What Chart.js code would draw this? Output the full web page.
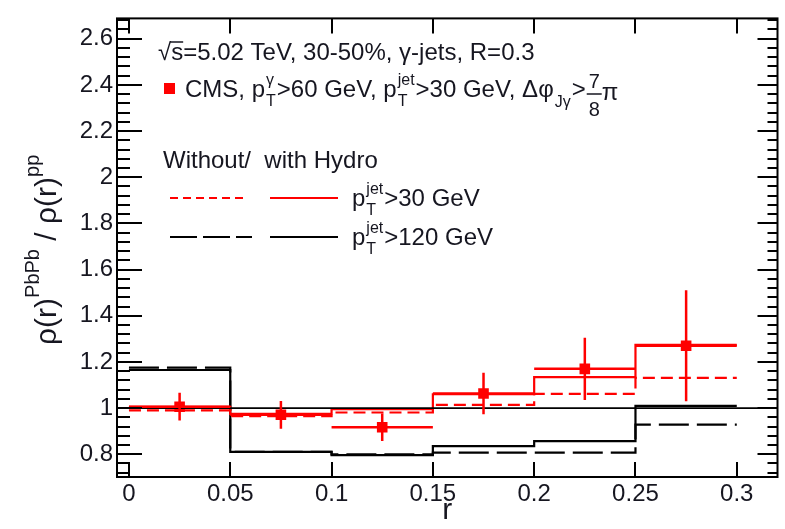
<!DOCTYPE html>
<html>
<head>
<meta charset="utf-8">
<script src="https://cdn.jsdelivr.net/npm/chart.js@4.4.0/dist/chart.umd.min.js"></script>
<style>
html, body { margin: 0; padding: 0; background: #fff; }
</style>
</head>
<body>
<canvas id="grafico" width="785" height="529"></canvas>
<script>
// datos
const binEdges = [0, 0.05, 0.1, 0.15, 0.2, 0.25, 0.3];
const rojoHydro = [1.005, 0.975, 0.995, 1.06, 1.134, 1.274];    // pT jet > 30, con hydro
const rojoSinHydro = [0.99, 0.965, 0.981, 1.014, 1.062, 1.131]; // pT jet > 30, sin hydro
const negroHydro = [1.165, 0.81, 0.796, 0.835, 0.857, 1.01];    // pT jet > 120, con hydro
const negroSinHydro = [1.175, 0.81, 0.80, 0.807, 0.807, 0.928]; // pT jet > 120, sin hydro

const cmsX = [0.025, 0.075, 0.125, 0.175, 0.225, 0.275];
const cmsY = [1.006, 0.971, 0.917, 1.063, 1.17, 1.27];
const cmsErrY = [0.06, 0.06, 0.06, 0.09, 0.135, 0.24];
const cmsErrX = [0.025, 0.025, 0.025, 0.025, 0.025, 0.025];

const lineaUnoX = [0, 0.3201];
const lineaUnoY = [1, 1];

const xTicks = [0, 0.05, 0.1, 0.15, 0.2, 0.25, 0.3];
const yTicks = [0.8, 1, 1.2, 1.4, 1.6, 1.8, 2, 2.2, 2.4, 2.6];

const FUENTE = "'Liberation Sans', Arial, sans-serif";
const TEXTO = '#161620';

function histPuntos(vals) {
  const pts = vals.map((v, i) => ({ x: binEdges[i], y: v }));
  pts.push({ x: binEdges[binEdges.length - 1], y: vals[vals.length - 1] });
  return pts;
}

function fmt(v) {
  return String(+v.toFixed(2));
}

// texto con sub/superindices
function textoRico(ctx, x, y, partes) {
  let cx = x;
  partes.forEach(p => {
    if (p.sub !== undefined) {
      ctx.font = `16px ${FUENTE}`;
      ctx.fillText(p.sub, cx + 1, y + 9);
      const w1 = ctx.measureText(p.sub).width;
      ctx.fillText(p.sup, cx + 1, y - 12);
      const w2 = ctx.measureText(p.sup).width;
      cx += Math.max(w1, w2) + 2;
      return;
    }
    ctx.font = `${p.s || 24}px ${FUENTE}`;
    ctx.fillText(p.t, cx, y + (p.dy || 0));
    cx += ctx.measureText(p.t).width;
  });
  return cx;
}

const marcoRoot = {
  id: 'marcoRoot',
  afterDatasetsDraw(chart) {
    const ctx = chart.ctx;
    const xs = chart.scales.x, ys = chart.scales.y;
    ctx.save();
    ctx.strokeStyle = '#ff0000';
    ctx.lineWidth = 2.5;
    cmsX.forEach((xv, i) => {
      const px = xs.getPixelForValue(xv);
      const py = ys.getPixelForValue(cmsY[i]);
      ctx.beginPath();
      ctx.moveTo(px, ys.getPixelForValue(cmsY[i] - cmsErrY[i]));
      ctx.lineTo(px, ys.getPixelForValue(cmsY[i] + cmsErrY[i]));
      ctx.moveTo(xs.getPixelForValue(xv - cmsErrX[i]), py);
      ctx.lineTo(xs.getPixelForValue(xv + cmsErrX[i]), py);
      ctx.stroke();
    });
    ctx.restore();
  },
  afterDraw(chart) {
    const ctx = chart.ctx;
    const a = chart.chartArea;
    const xs = chart.scales.x, ys = chart.scales.y;
    ctx.save();
    ctx.strokeStyle = '#000';
    ctx.lineWidth = 2;
    ctx.strokeRect(a.left, a.top, a.right - a.left, a.bottom - a.top);

    // marcas del eje y (hacia adentro, ambos lados)
    ctx.beginPath();
    for (let k = 18; k <= 67; k++) {
      const v = k * 0.04;
      const py = Math.round(ys.getPixelForValue(v));
      if (py < a.top || py > a.bottom) continue;
      const mayor = k % 5 === 0;
      ctx.moveTo(a.left, py);
      ctx.lineTo(a.left + (mayor ? 25 : 13), py);
      ctx.moveTo(a.right, py);
      ctx.lineTo(a.right - (mayor ? 20 : 10), py);
    }
    // marcas del eje x
    xTicks.forEach(v => {
      const px = Math.round(xs.getPixelForValue(v));
      ctx.moveTo(px, a.bottom);
      ctx.lineTo(px, a.bottom - 15);
      ctx.moveTo(px, a.top);
      ctx.lineTo(px, a.top + 15);
    });
    ctx.stroke();

    // titulo eje y
    ctx.fillStyle = TEXTO;
    ctx.textBaseline = 'alphabetic';
    ctx.save();
    ctx.translate(56, 345);
    ctx.rotate(-Math.PI / 2);
    let cx = 0;
    const piezas = [
      { t: 'ρ(r)', s: 30, dy: 0 },
      { t: 'PbPb', s: 20, dy: -17 },
      { t: ' / ', s: 30, dy: 0 },
      { t: 'ρ(r)', s: 30, dy: 0 },
      { t: 'pp', s: 20, dy: -17 }
    ];
    piezas.forEach(p => {
      ctx.font = `${p.s}px ${FUENTE}`;
      ctx.fillText(p.t, cx, p.dy);
      cx += ctx.measureText(p.t).width;
    });
    ctx.restore();

    // anotaciones
    ctx.font = `24px ${FUENTE}`;
    ctx.fillText('√', 158, 60);
    const wr = ctx.measureText('√').width;
    const ws = ctx.measureText('s').width;
    ctx.fillText('s', 158 + wr, 60);
    ctx.lineWidth = 1.5;
    ctx.strokeStyle = TEXTO;
    ctx.beginPath();
    ctx.moveTo(158 + wr - 1, 42);
    ctx.lineTo(158 + wr + ws, 42);
    ctx.stroke();
    ctx.fillText('=5.02 TeV, 30-50%, γ-jets, R=0.3', 158 + wr + ws, 60);

    // punto CMS
    ctx.fillStyle = '#ff0000';
    ctx.fillRect(164, 83, 11, 11);
    ctx.fillStyle = TEXTO;
    let fx = textoRico(ctx, 185, 97, [
      { t: 'CMS, p' }, { sub: 'T', sup: 'γ' },
      { t: '>60 GeV, p' }, { sub: 'T', sup: 'jet' },
      { t: '>30 GeV, Δφ' }
    ]);
    ctx.font = `16px ${FUENTE}`;
    ctx.fillText('Jγ', fx + 1, 107);
    fx += ctx.measureText('Jγ').width + 2;
    ctx.font = `24px ${FUENTE}`;
    ctx.fillText('>', fx, 97);
    fx += ctx.measureText('>').width + 1;
    ctx.font = `20px ${FUENTE}`;
    ctx.fillText('7', fx + 2, 88);
    ctx.fillText('8', fx + 2, 116);
    ctx.lineWidth = 1.5;
    ctx.beginPath();
    ctx.moveTo(fx, 94);
    ctx.lineTo(fx + 15, 94);
    ctx.stroke();
    ctx.font = `24px ${FUENTE}`;
    ctx.fillText('π', fx + 15, 100);

    ctx.fillText('Without/  with Hydro', 163, 168);

    // muestras de linea
    ctx.lineWidth = 2.2;
    ctx.strokeStyle = '#ff0000';
    ctx.setLineDash([8, 5]);
    ctx.beginPath(); ctx.moveTo(170, 198); ctx.lineTo(248, 198); ctx.stroke();
    ctx.setLineDash([]);
    ctx.beginPath(); ctx.moveTo(270, 198); ctx.lineTo(338, 198); ctx.stroke();
    ctx.strokeStyle = '#000';
    ctx.setLineDash([27, 6]);
    ctx.beginPath(); ctx.moveTo(170, 237); ctx.lineTo(252, 237); ctx.stroke();
    ctx.setLineDash([]);
    ctx.beginPath(); ctx.moveTo(270, 237); ctx.lineTo(338, 237); ctx.stroke();

    ctx.fillStyle = TEXTO;
    textoRico(ctx, 352, 206, [{ t: 'p' }, { sub: 'T', sup: 'jet' }, { t: '>30 GeV' }]);
    textoRico(ctx, 352, 245, [{ t: 'p' }, { sub: 'T', sup: 'jet' }, { t: '>120 GeV' }]);
    ctx.restore();
  }
};

const datasets = [
  {
    label: 'uno',
    data: lineaUnoX.map((x, i) => ({ x, y: lineaUnoY[i] })),
    showLine: true, borderColor: '#000', borderWidth: 1.6, pointRadius: 0
  },
  {
    label: 'CMS',
    data: cmsX.map((x, i) => ({ x, y: cmsY[i] })),
    showLine: false, pointStyle: 'rect', pointRadius: 7.5,
    backgroundColor: '#ff0000', borderColor: '#ff0000', borderWidth: 0
  },
  {
    label: 'rojo hydro',
    data: histPuntos(rojoHydro),
    showLine: true, stepped: 'before', borderColor: '#ff0000', borderWidth: 2.2, pointRadius: 0
  },
  {
    label: 'rojo sin hydro',
    data: histPuntos(rojoSinHydro),
    showLine: true, stepped: 'before', borderColor: '#ff0000', borderWidth: 2.2,
    borderDash: [12, 6], pointRadius: 0
  },
  {
    label: 'negro hydro',
    data: histPuntos(negroHydro),
    showLine: true, stepped: 'before', borderColor: '#000', borderWidth: 2.2, pointRadius: 0
  },
  {
    label: 'negro sin hydro',
    data: histPuntos(negroSinHydro),
    showLine: true, stepped: 'before', borderColor: '#000', borderWidth: 2.2,
    borderDash: [30, 8], pointRadius: 0
  }
];

new Chart(document.getElementById('grafico').getContext('2d'), {
  type: 'scatter',
  data: { datasets },
  options: {
    responsive: false,
    animation: false,
    devicePixelRatio: 1,
    layout: { padding: { left: 0, top: 13, right: 4, bottom: 0 } },
    plugins: { legend: { display: false }, tooltip: { enabled: false } },
    scales: {
      x: {
        type: 'linear', min: -0.0059, max: 0.3201,
        afterBuildTicks: s => { s.ticks = xTicks.map(v => ({ value: v })); },
        afterFit: s => { s.height = 52; },
        grid: { display: false, drawTicks: false },
        border: { display: false },
        ticks: {
          callback: v => fmt(v), autoSkip: false, maxRotation: 0, padding: 3,
          color: TEXTO, font: { family: FUENTE, size: 24 }
        },
        title: {
          display: true, text: 'r', color: TEXTO, padding: { top: 0, bottom: 0 },
          font: { family: FUENTE, size: 30 }
        }
      },
      y: {
        type: 'linear', min: 0.7015, max: 2.688,
        afterBuildTicks: s => { s.ticks = yTicks.map(v => ({ value: v })); },
        afterFit: s => { s.width = 117; },
        grid: { display: false, drawTicks: false },
        border: { display: false },
        ticks: {
          callback: v => fmt(v), autoSkip: false, padding: 4,
          color: TEXTO, font: { family: FUENTE, size: 24 }
        }
      }
    }
  },
  plugins: [marcoRoot]
});
</script>
</body>
</html>
